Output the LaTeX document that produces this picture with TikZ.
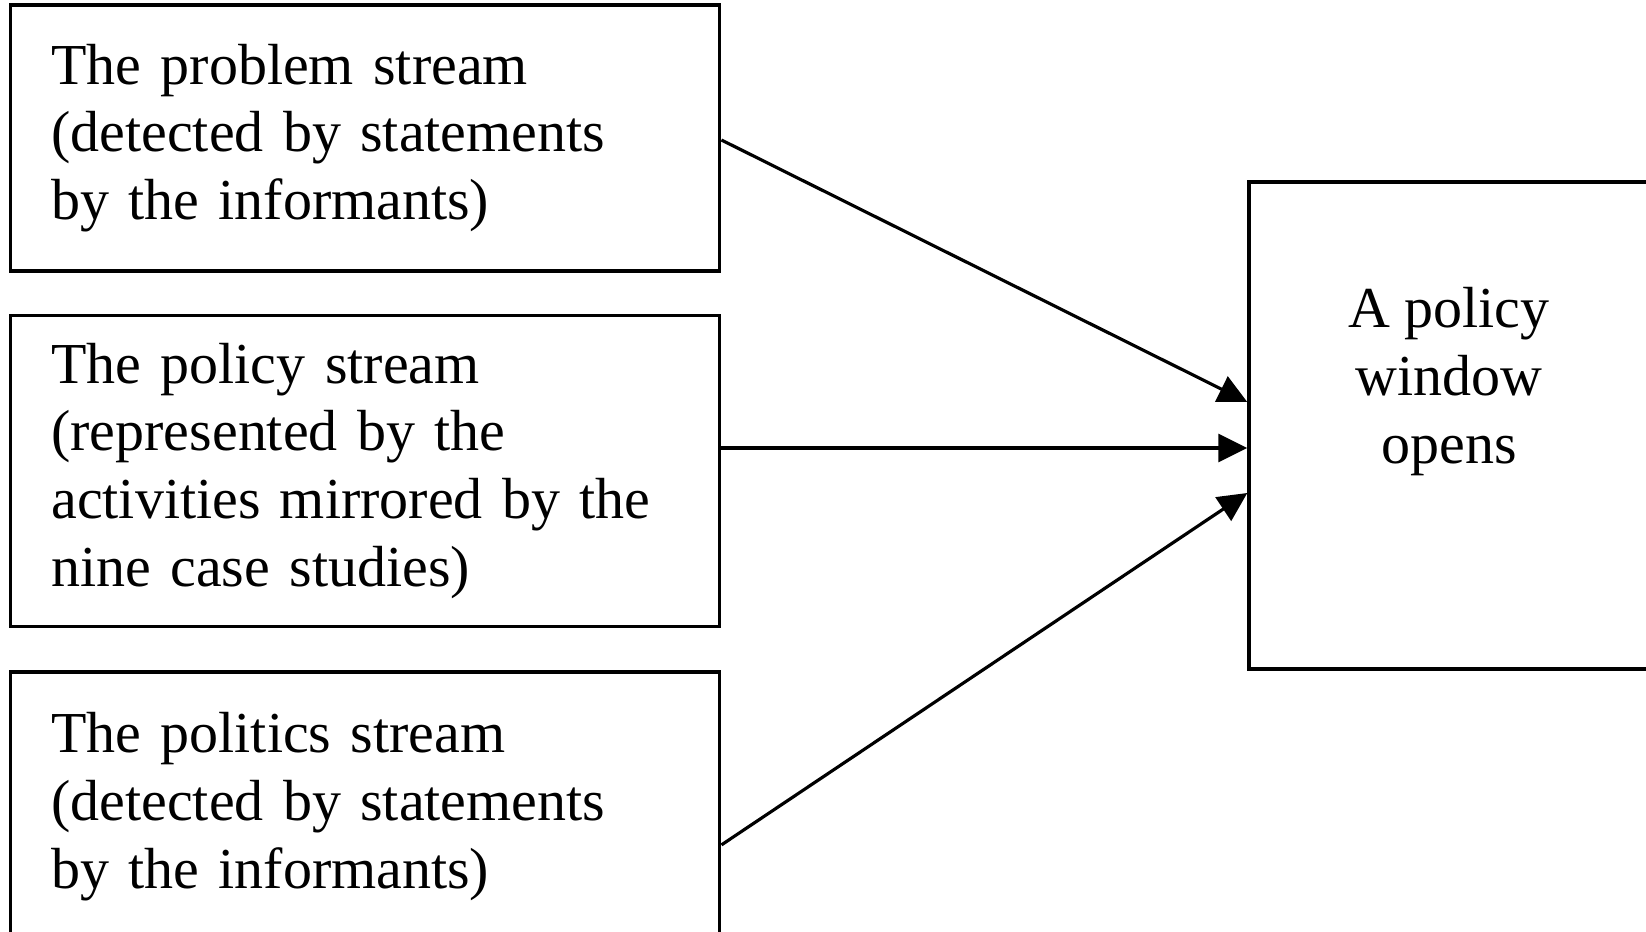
\documentclass[tikz,border=0pt]{standalone}
\usepackage{fontspec}
\setmainfont{Liberation Serif}
\usepackage{tikz}
\usetikzlibrary{arrows.meta,positioning,calc}
\tikzset{
  streambox/.style={draw=black,line width=2pt,rectangle,align=left,
    text width=12.55cm,inner xsep=0.8cm,minimum width=14.19cm,
    font=\fontsize{33}{38.6}\selectfont},
  windowbox/.style={draw=black,line width=2pt,rectangle,
    minimum width=8cm,minimum height=9.74cm},
  windowlabel/.style={align=center,inner sep=0pt,
    font=\fontsize{33}{38.6}\selectfont},
  streamarrow/.style={-{Triangle[length=0.58cm,width=0.56cm]},line width=1.8pt}
}
\begin{document}
\begin{tikzpicture}[x=0.02cm,y=-0.02cm,node distance=0.8cm]
  \clip (0,0) rectangle (1646,931);
  \node[streambox,minimum height=5.32cm] (problem) at (365,138)
    {The problem stream\\(detected by statements\\by the informants)};
  \node[streambox,minimum height=6.22cm,below=0.82cm of problem] (policy)
    {The policy stream\\(represented by the\\activities mirrored by the\\nine case studies)};
  \node[streambox,minimum height=5.4cm,below=0.84cm of policy] (politics)
    {The politics stream\\(detected by statements\\by the informants)};
  \node[windowbox] (window) at (1449,425.5) {};
  \node[windowlabel,below=2.14cm of window.north,anchor=north] (opens)
    {A policy\\window\\opens};
  % arrow ends on the window edge
  \coordinate[above=0.47cm of window.west] (in1);
  \coordinate[below=0.45cm of window.west] (in2);
  \coordinate[below=1.35cm of window.west] (in3);
  \draw[streamarrow] ([yshift=-0.04cm]problem.east) -- (in1);
  \draw[streamarrow] (policy.east |- in2) -- (in2);
  \draw[streamarrow] ([yshift=-0.76cm]politics.east) -- (in3);
\end{tikzpicture}
\end{document}
